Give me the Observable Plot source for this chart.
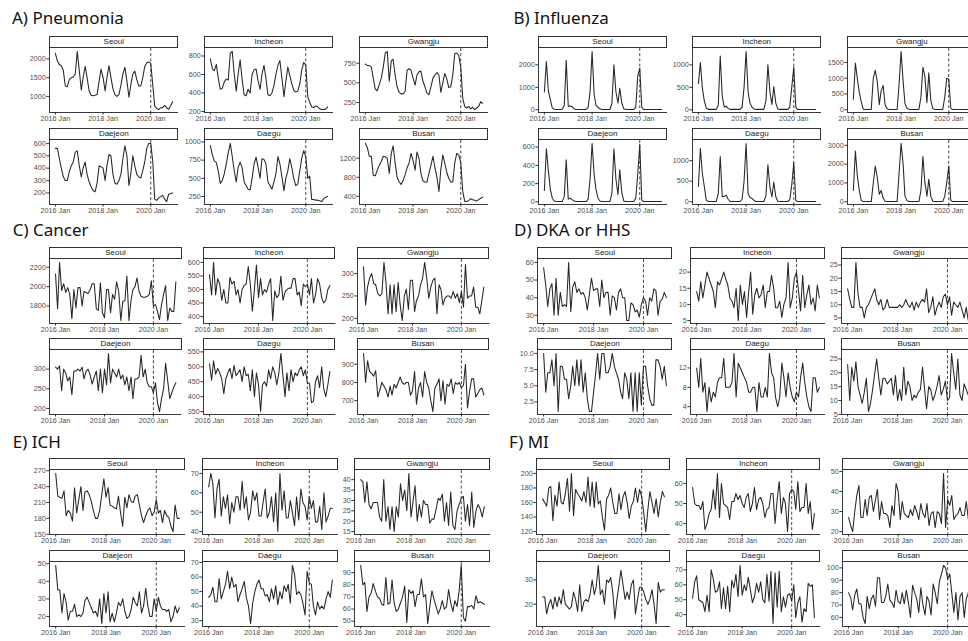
<!DOCTYPE html>
<html><head><meta charset="utf-8">
<script src="https://cdn.jsdelivr.net/npm/d3@7"></script>
<script src="https://cdn.jsdelivr.net/npm/@observablehq/plot@0.6"></script>
<style>
body{margin:0;background:#fff;}
#fig{position:relative;width:968px;height:641px;overflow:hidden;background:#fff;font-family:"Liberation Sans",Arial,sans-serif;}
.title{position:absolute;font-family:"Noto Sans",sans-serif;font-size:17px;line-height:17px;color:#111;white-space:nowrap;}
.strip{position:absolute;box-sizing:border-box;border:1px solid #333;background:#fff;font-size:8px;color:#1a1a1a;text-align:center;line-height:10px;white-space:nowrap;overflow:hidden;}
.facet{position:absolute;}
</style></head><body><div id="fig"></div>
<script>
// ---------- categories & tick labels ----------
const cities = ["Seoul","Incheon","Gwangju","Daejeon","Daegu","Busan"];
const panelTitles = ["A) Pneumonia","B) Influenza","C) Cancer","D) DKA or HHS","E) ICH","F) MI"];
const xTickLabels = ["2016 Jan","2018 Jan","2020 Jan"];
const xTickDates = [new Date(Date.UTC(2016,0,1)), new Date(Date.UTC(2018,0,1)), new Date(Date.UTC(2020,0,1))];
const interventionDate = new Date(Date.UTC(2020,0,1));
const months = d3.utcMonths(new Date(Date.UTC(2016,0,1)), new Date(Date.UTC(2021,0,1))); // Jan 2016 .. Dec 2020

// ---------- A) Pneumonia ----------
const pneumoniaSeoul = [2150,1950,1850,1820,1700,1280,1260,1450,1500,1520,1600,2200,
1700,1170,1500,1800,1500,1150,1030,1020,1030,1050,1400,1730,
1500,1150,1500,1820,1500,1200,1050,1000,1050,1300,1600,1780,
1400,980,1300,1600,1680,1450,1280,1280,1500,1800,1900,1920,
1880,1300,750,680,650,700,700,760,700,660,750,860];
const pneumoniaIncheon = [770,660,640,710,560,440,450,520,550,540,830,850,
600,420,600,760,550,380,370,440,400,600,650,660,
530,440,600,700,560,380,370,400,480,600,700,750,
560,360,520,680,590,500,430,410,420,500,650,730,
700,360,300,250,240,260,250,230,220,220,225,250];
const pneumoniaGwangju = [740,720,720,700,560,420,400,480,560,700,880,900,
520,780,800,600,450,380,360,360,390,660,680,660,
560,470,600,640,650,520,450,370,350,450,560,600,
630,600,380,500,620,550,440,450,600,870,880,850,
700,300,200,180,200,170,190,160,180,200,260,240];
const pneumoniaDaejeon = [560,560,480,400,330,300,300,370,420,450,530,540,
420,330,400,450,350,290,250,220,210,280,420,410,
400,300,420,510,500,350,280,270,300,350,480,580,
500,260,350,500,420,350,330,320,380,450,560,600,
600,450,150,140,160,170,180,150,130,190,195,200];
const pneumoniaDaegu = [950,820,740,720,600,430,470,560,700,850,980,800,
600,450,650,720,650,450,400,350,340,500,700,790,
650,500,770,760,700,450,400,350,450,560,800,700,
520,330,500,600,770,650,500,400,420,600,780,880,
800,500,530,210,210,200,200,190,180,220,240,250];
const pneumoniaBusan = [1510,1420,1240,1240,840,830,950,1050,1130,1240,1230,1200,
880,1300,1460,1100,800,700,650,730,850,1000,1100,1300,
1150,950,1330,1200,880,720,700,700,880,1050,1240,1000,
800,500,950,1270,1100,900,780,700,700,1100,1300,1270,
1100,500,300,290,310,350,330,320,300,330,360,380];
const pneumoniaTicks = [[1000,1500,2000],[200,400,600,800],[250,500,750],[200,300,400,500,600],[250,500,750,1000],[400,800,1200]];

// ---------- B) Influenza ----------
const influenzaSeoul = [790,2150,860,450,80,20,10,10,10,20,200,2200,
150,160,140,40,10,10,10,10,10,10,100,800,
2600,700,200,100,40,10,10,10,10,10,300,2000,
800,300,950,300,40,10,10,10,10,10,100,1500,
1850,100,5,5,5,5,5,5,5,5,5,5];
const influenzaIncheon = [580,1050,500,200,40,10,10,10,10,10,100,1200,
300,60,80,30,10,10,10,10,10,10,60,500,
1300,400,150,60,20,10,10,10,10,10,200,1000,
400,120,520,150,20,10,10,10,10,10,60,500,
950,60,5,5,5,5,5,5,5,5,5,5];
const influenzaGwangju = [330,1480,1000,550,250,20,10,10,10,10,1000,1250,
900,160,600,770,150,30,10,10,10,10,10,800,
1850,900,200,50,10,10,10,10,10,10,400,1350,
1050,220,1170,300,40,10,10,10,10,10,400,1000,
970,50,5,5,5,5,5,5,5,5,5,5];
const influenzaDaejeon = [125,580,350,140,40,10,3,3,3,3,60,460,
30,40,25,10,3,3,3,3,3,3,30,250,
640,300,140,40,10,3,3,3,3,3,100,580,
250,80,350,100,10,3,3,3,3,3,40,300,
630,20,3,3,3,3,3,3,3,3,3,3];
const influenzaDaegu = [370,1300,700,370,40,5,5,5,5,5,200,1100,
120,130,160,60,5,5,5,5,5,5,60,500,
1420,200,100,80,30,5,5,5,5,5,150,900,
350,120,480,120,10,5,5,5,5,5,50,400,
950,30,3,3,3,3,3,3,3,3,3,3];
const influenzaBusan = [600,2700,1400,600,60,10,10,10,10,10,1000,1900,
1300,400,600,200,30,10,10,10,10,10,10,1500,
3100,2000,300,60,10,10,10,10,10,10,600,2400,
1000,300,1200,300,30,10,10,10,10,10,300,1000,
1900,60,10,10,10,10,10,10,10,10,10,10];
const influenzaTicks = [[0,1000,2000],[0,500,1000],[0,500,1000,1500],[0,200,400,600],[0,500,1000,1500],[0,1000,2000,3000]];

// ---------- C) Cancer ----------
const cancerSeoul = [2130,1770,2250,1960,2030,1940,1990,1920,1670,1970,1780,1990,
1990,1800,1950,1940,1930,1970,2030,2030,1770,1755,2040,1730,
1680,1970,1970,1730,1920,1870,2050,1950,1650,1850,1855,2110,
1650,1860,1970,2000,2090,1950,1900,1890,1890,1900,1920,2060,
1800,1815,1745,1660,1815,1920,2010,1650,1780,1745,1745,2050];
const cancerIncheon = [555,480,600,480,540,520,460,500,450,450,545,520,
530,480,500,450,500,515,520,585,520,420,500,590,
470,540,480,500,490,520,540,385,495,470,480,550,
460,490,500,505,505,540,540,480,490,440,520,510,
520,480,540,450,480,540,520,470,450,460,500,515];
const cancerGwangju = [315,230,270,290,300,278,275,255,250,255,325,280,
210,275,210,275,215,280,230,195,250,265,220,285,
285,215,240,250,275,290,325,290,245,270,285,290,
210,275,265,230,245,250,250,245,260,245,255,235,
260,225,320,245,250,250,270,225,225,210,240,270];
const cancerDaejeon = [305,300,308,245,300,290,270,280,235,295,295,300,
295,305,275,295,300,285,262,280,295,245,300,240,
300,260,340,265,300,290,280,300,275,285,260,280,
245,280,225,275,275,280,335,280,300,265,255,255,
240,265,215,192,225,250,315,270,225,240,255,265];
const cancerDaegu = [510,455,520,475,495,480,460,410,460,480,495,460,
505,470,480,490,450,500,470,475,420,490,400,480,
440,350,440,450,435,490,460,500,480,440,480,545,
470,400,480,420,490,450,480,470,490,500,470,490,
445,445,380,385,450,470,430,500,425,400,440,485];
const cancerBusan = [960,800,920,860,850,835,865,720,760,800,780,760,
720,780,730,790,770,800,830,800,790,800,800,730,
755,860,680,770,800,720,860,800,770,700,640,770,
790,820,700,810,680,790,780,820,740,800,790,800,
770,785,900,660,750,820,820,720,740,760,770,730];
const cancerTicks = [[1800,2000,2200],[400,450,500,550,600],[200,250,300],[200,250,300],[350,400,450,500,550],[700,800,900]];

// ---------- D) DKA or HHS ----------
const dkaSeoul = [57,47,35,45,48,30,51,30,43,35,36,35,
60,32,46,49,43,45,42,43,40,33,42,51,
44,45,45,35,50,40,43,43,30,41,40,33,
43,45,40,40,27,27,37,36,32,33,29,36,
40,38,30,40,38,45,44,30,38,39,43,40];
const dkaIncheon = [14,11,17,12,16,20,18,16,14,9,17,16,
18,20,18,16,12,11,9,15,5,16,10,14,
6,14,20,7,13,15,12,13,16,9,14,14,
19,15,9,9,11,6,10,12,23,9,12,18,
20,14,8,19,9,13,16,10,12,8,16,12];
const dkaGwangju = [16,12,9,9,26,14,9,9,5,9,10,12,
14,16,12,10,12,8,9,12,9,9,9,9,
9,10,9,10,12,10,9,11,8,11,9,11,
12,11,16,7,9,13,6,9,11,9,13,14,
10,13,6,11,10,9,11,8,5,9,4,7];
const dkaDaejeon = [10,4,7,7,9,5,10,1,8,8,6,6,
3,5,8,5,9,5,9,4,7,3,1,1,
4,7,10,6,10,10,7,7,8,10,8,7,
6,4,3,7,6,3,7,1,7,1,7,2,
8,8,5,3,2,2,9,9,8,6,8,5];
const dkaDaegu = [12,8,14,7,9,3,8,5,7,6,9,10,
10,14,8,8,8,9,15,6,13,12,11,10,
9,7,7,8,8,3,9,6,6,8,6,15,
11,10,6,4,6,13,10,6,11,8,6,5,
7,6,10,13,9,6,4,3,10,10,7,8];
const dkaBusan = [23,10,22,17,24,15,12,9,13,18,6,9,
14,20,25,18,12,18,18,16,17,18,12,19,
10,14,10,22,12,17,15,10,12,11,13,14,
22,14,7,15,14,10,12,15,19,12,14,17,
10,11,27,20,14,25,12,10,16,14,12,15];
const dkaTicks = [[30,40,50,60],[5,10,15,20],[5,10,15,20,25],[2.5,5,7.5,10],[4,8,12],[5,10,15,20,25]];

// ---------- E) ICH ----------
const ichSeoul = [265,222,220,218,232,185,195,190,175,238,190,215,
240,195,230,232,225,212,195,180,180,195,225,255,
220,238,205,203,200,198,222,190,165,220,200,225,
212,210,222,225,205,185,172,185,195,200,185,192,
215,190,195,172,195,185,182,165,155,205,180,180];
const ichIncheon = [63,70,65,47,62,67,48,58,52,59,44,55,
50,58,58,51,66,52,58,46,50,61,56,60,
48,48,55,62,47,50,58,45,60,40,70,51,
61,47,47,56,50,43,58,46,62,55,53,46,
58,52,56,45,45,53,41,60,45,48,52,52];
const ichGwangju = [40,39,29,39,28,26,29,29,29,22,20,40,
20,27,16,27,15,27,22,38,30,35,25,43,
22,30,37,20,28,22,30,28,28,19,21,21,
26,31,30,33,20,29,18,34,18,16,25,28,
31,32,20,28,18,34,17,25,28,26,22,27];
const ichDaejeon = [49,35,35,22,33,28,18,23,23,27,20,21,
20,22,29,31,28,25,22,23,20,30,16,33,
22,34,17,22,17,22,28,26,30,23,19,20,
24,31,28,26,34,22,26,36,26,20,20,30,
23,31,26,24,24,23,24,17,20,26,22,25];
const ichDaegu = [46,48,53,43,43,59,45,50,55,64,52,60,
53,55,43,48,52,57,46,40,28,42,50,55,
58,52,52,47,48,43,52,45,54,41,50,45,
54,50,55,42,68,62,48,50,48,42,34,64,
56,55,40,34,43,38,40,38,45,50,46,58];
const ichBusan = [96,80,82,58,70,73,81,75,70,69,64,63,
86,64,65,84,65,58,60,65,70,79,49,76,
73,75,62,72,72,85,70,72,48,62,75,68,
62,56,60,67,60,62,76,65,58,67,62,75,
96,53,50,62,62,63,60,71,65,66,65,64];
const ichTicks = [[150,180,210,240,270],[40,50,60,70],[15,20,25,30,35,40],[20,30,40,50],[30,40,50,60,70],[50,60,70,80,90]];

// ---------- F) MI ----------
const miSeoul = [165,160,155,180,182,135,170,155,188,160,158,172,
193,148,200,142,178,172,168,162,175,160,195,155,
188,153,188,158,162,140,122,165,170,180,160,145,
145,172,150,168,175,160,138,155,162,180,160,178,
168,145,120,150,175,160,145,165,140,160,175,168];
const miIncheon = [58,50,49,49,47,51,37,40,45,47,57,47,
65,43,60,50,49,48,42,51,51,55,52,54,
50,48,53,55,46,50,58,47,52,53,50,43,
47,48,55,55,40,52,61,45,53,50,36,55,
57,56,47,61,46,48,48,60,45,51,37,45];
const miGwangju = [27,23,20,30,38,43,27,27,36,28,37,38,
30,36,41,26,35,29,29,28,22,33,28,44,
40,26,35,29,28,27,31,28,33,30,26,34,
29,27,34,23,29,30,22,30,29,24,49,22,
36,33,38,26,28,29,32,28,28,35,26,30];
const miDaejeon = [23,23,16,20,22,18,23,19,23,20,26,20,
19,18,19,25,22,17,28,17,21,22,21,24,
30,24,27,36,24,26,20,30,29,31,25,14,
22,28,34,28,22,25,22,28,30,16,22,27,
27,25,22,20,22,26,20,12,29,25,26,26];
const miDaegu = [51,62,66,50,49,48,42,53,42,70,64,55,
56,62,44,58,44,59,42,63,58,67,52,73,
53,60,56,65,57,48,52,61,55,62,50,48,
67,49,69,34,68,45,69,42,52,45,53,54,
49,60,38,48,52,35,44,42,61,59,60,38];
const miBusan = [80,76,66,78,83,71,71,60,55,77,67,75,
78,69,92,92,72,72,77,87,74,72,68,82,
73,71,80,71,82,72,60,86,80,75,64,84,
70,62,77,73,62,87,80,71,89,95,102,100,
91,95,80,64,80,58,77,80,60,75,80,70];
const miTicks = [[120,140,160,180,200],[40,50,60],[20,30,40,50],[20,30],[40,50,60,70],[60,70,80,90,100]];

// ---------- assemble ----------
const panelSeries = [
  [pneumoniaSeoul,pneumoniaIncheon,pneumoniaGwangju,pneumoniaDaejeon,pneumoniaDaegu,pneumoniaBusan],
  [influenzaSeoul,influenzaIncheon,influenzaGwangju,influenzaDaejeon,influenzaDaegu,influenzaBusan],
  [cancerSeoul,cancerIncheon,cancerGwangju,cancerDaejeon,cancerDaegu,cancerBusan],
  [dkaSeoul,dkaIncheon,dkaGwangju,dkaDaejeon,dkaDaegu,dkaBusan],
  [ichSeoul,ichIncheon,ichGwangju,ichDaejeon,ichDaegu,ichBusan],
  [miSeoul,miIncheon,miGwangju,miDaejeon,miDaegu,miBusan]
];
const panelTicks = [pneumoniaTicks, influenzaTicks, cancerTicks, dkaTicks, ichTicks, miTicks];

// layout (page geometry only)
const layout = [
  {tx:12,   tb:24,    s1:36,    cols:[49.3,204.3,359],   W:129},
  {tx:513.5,tb:24,    s1:36,    cols:[538,692.3,847.3],  W:129},
  {tx:12.7, tb:236.5, s1:246.5, cols:[49.3,202.7,356.7], W:132.4},
  {tx:514,  tb:236.5, s1:246.5, cols:[537.3,689.7,841.3],W:135},
  {tx:12.7, tb:448.5, s1:458,   cols:[49.3,201.7,354.3], W:136},
  {tx:509,  tb:448.5, s1:458,   cols:[535.7,686.3,841.7],W:134}
];
const STRIP_H = 12, PLOT_H = 64, ROW_PITCH = 91.5;

const span = months[months.length-1] - months[0];
const xDomain = [new Date(+months[0] - 0.05*span), new Date(+months[months.length-1] + 0.05*span)];
const xLabelOf = new Map(xTickDates.map((d,i)=>[+d, xTickLabels[i]]));

const fig = document.getElementById("fig");

function facet(values, ticks, city, left, stripTop, W) {
  const strip = document.createElement("div");
  strip.className = "strip";
  strip.style.left = left + "px"; strip.style.top = stripTop + "px";
  strip.style.width = W + "px"; strip.style.height = STRIP_H + "px";
  strip.textContent = city;
  fig.appendChild(strip);

  const ML = 30, MR = 14, MT = 3, MB = 16;
  const data = values.map((v,i)=>({date: months[i], value: v}));
  const lo = d3.min(values), hi = d3.max(values), pad = (hi-lo)*0.05;
  const yDomain = [lo - pad, hi + pad];
  const yt = ticks.filter(v => v >= yDomain[0] && v <= yDomain[1]);
  const dec = yt.some(v => !Number.isInteger(v)) ? 1 : 0;
  const chart = Plot.plot({
    width: ML + W + MR, height: MT + PLOT_H + MB,
    marginLeft: ML, marginRight: MR, marginTop: MT, marginBottom: MB,
    style: {background: "transparent", fontFamily: "Liberation Sans, Arial, sans-serif", fontSize: "7.2px", overflow: "visible", maxWidth: "none"},
    x: {type: "utc", domain: xDomain, label: null},
    y: {domain: yDomain, label: null},
    marks: [
      Plot.axisX({ticks: xTickDates, label: null, tickSize: 2.6, tickPadding: 1.2, tickFormat: d => xLabelOf.get(+d), fill: "#4d4d4d", stroke: "#333", fontSize: 7.2}),
      Plot.axisY({ticks: yt, label: null, tickSize: 2.6, tickPadding: 1.2, tickFormat: d => d.toFixed(dec), fill: "#4d4d4d", stroke: "#333", fontSize: 7.2}),
      Plot.ruleX([xDomain[0]], {stroke: "#222", strokeWidth: 0.9}),
      Plot.ruleY([yDomain[0]], {stroke: "#222", strokeWidth: 0.9}),
      Plot.ruleX([interventionDate], {stroke: "#333", strokeWidth: 0.9, strokeDasharray: "3,2.2"}),
      Plot.lineY(data, {x: "date", y: "value", stroke: "#262626", strokeWidth: 1.05})
    ]
  });
  chart.classList.add("facet");
  chart.style.left = (left - ML) + "px";
  chart.style.top = (stripTop + STRIP_H - MT) + "px";
  chart.style.position = "absolute";
  fig.appendChild(chart);
}

layout.forEach((L, p) => {
  const t = document.createElement("div");
  t.className = "title";
  t.style.left = L.tx + "px";
  t.style.top = (L.tb - 15.1) + "px";
  t.textContent = panelTitles[p];
  fig.appendChild(t);
  cities.forEach((city, c) => {
    const row = Math.floor(c / 3), col = c % 3;
    facet(panelSeries[p][c], panelTicks[p][c], city, L.cols[col], L.s1 + row * ROW_PITCH, L.W);
  });
});
</script></body></html>
